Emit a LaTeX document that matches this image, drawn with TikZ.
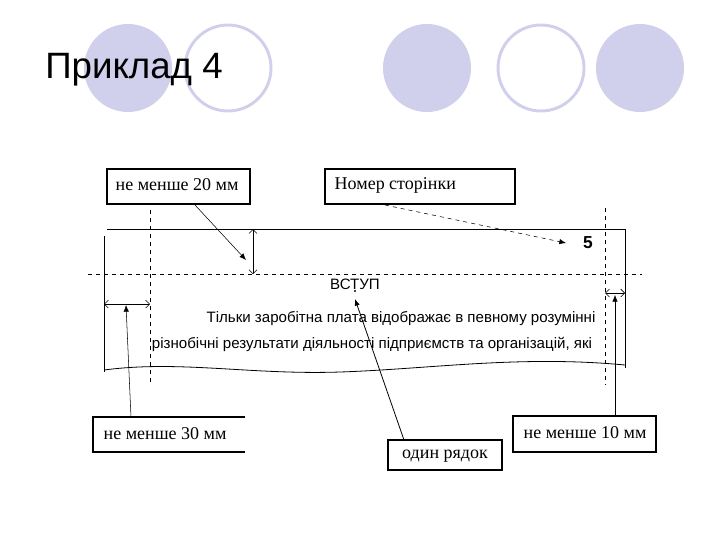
\documentclass[tikz,border=0pt]{standalone}
\usepackage{fontspec}
\setmainfont{Liberation Serif}
\newfontfamily\arial{Liberation Sans}
\usetikzlibrary{arrows.meta}
\definecolor{lav}{RGB}{208,208,236}
\begin{document}
\begin{tikzpicture}[x=0.75pt,y=-0.75pt,
  bt/.style={font=\fontsize{13.5}{16}\selectfont},
  pg/.style={font=\arial\fontsize{11.3}{13}\selectfont},
  circf/.style={fill=lav,draw=none},
  circo/.style={draw=lav,line width=2.2pt,fill=white},
  dbl/.style={{Straight Barb[length=3pt]}-{Straight Barb[length=3pt]},thin},
  pt/.style={-{Latex[length=5pt,width=4pt]},thin}]
\useasboundingbox (0,0) rectangle (720,540);
\fill[white] (0,0) rectangle (720,540);
\path[circf] (128,68) circle[radius=44];
\path[circo] (228,68) circle[radius=43];
\path[circf] (427,68) circle[radius=44];
\path[circo] (541,68) circle[radius=43];
\path[circf] (640,68) circle[radius=44];
\node[anchor=west,inner sep=0,font=\arial\fontsize{27.5}{32}\selectfont] (title) at (45,70) {Приклад 4};
% boxes
\draw[thick] (107,169) rectangle (250,204);
\node[anchor=west,bt] (b20) at (111,185) {не менше 20 мм};
\draw[thick] (325,169) rectangle (515,204);
\node[anchor=west,bt] (bnum) at (330,185) {Номер сторінки};
\draw[thick] (245,417) -- (93,417) -- (93,452) -- (245,452);
\node[anchor=west,bt] (b30) at (99,434) {не менше 30 мм};
\draw[thick] (513,416) rectangle (656,452);
\node[anchor=west,bt] (b10) at (519,433) {не менше 10 мм};
\draw[thick] (388,440) rectangle (502,470);
\node[bt] (b1) at (445,456) {один рядок};
% page
\draw (107,229) -- (625,229) -- (625,368);
\draw (104,236) -- (104,372);
\draw[semithick] (104,370) .. controls (180,360) and (250,375) .. (340,372) .. controls (430,369) and (520,355) .. (625,365);
\draw[dashed] (88,274) -- (642,274);
\draw[dashed] (150,210) -- (150,385);
\draw[dashed] (605,208) -- (605,385);
\draw[dbl] (253,229) -- (253,274);
\draw[dbl] (104,304) -- (150,304);
\draw[dbl] (605,293) -- (625,293);
\node[font=\arial\bfseries\fontsize{13}{15}\selectfont] (five) at (588,243) {5};
\node[pg] (vstup) at (355,284) {ВСТУП};
\node[pg] (l1) at (401,319) {Тільки заробітна плата відображає в певному розумінні};
\node[pg] (l2) at (372,344) {різнобічні результати діяльності підприємств та організацій, які};
% pointers
\draw[pt] (195,205) -- (246,260);
\draw[pt,dashed] (385,205) -- (566,243);
\draw[pt] (131,417) -- (126,305);
\draw[pt] (615,417) -- (615,295);
\draw[pt,semithick] (404,440) -- (355,299);
\fill (355,291) circle[radius=1.2];
\end{tikzpicture}
\end{document}
